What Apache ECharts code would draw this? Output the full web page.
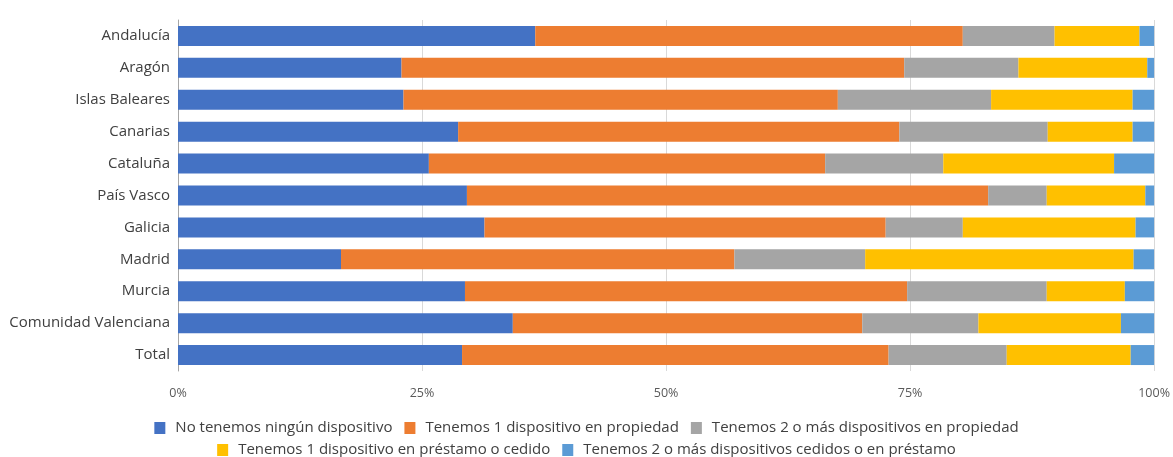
<!DOCTYPE html>
<html>
<head>
<meta charset="utf-8">
<script src="https://cdn.jsdelivr.net/npm/echarts@6/dist/echarts.min.js"></script>
<style>html,body{margin:0;padding:0;background:#fff}#c{width:1173px;height:457px}</style>
</head>
<body>
<div id="c"></div>
<script>
const categories = ["Andalucía","Aragón","Islas Baleares","Canarias","Cataluña","País Vasco","Galicia","Madrid","Murcia","Comunidad Valenciana","Total"];
const seriesNames = ["No tenemos ningún dispositivo","Tenemos 1 dispositivo en propiedad","Tenemos 2 o más dispositivos en propiedad","Tenemos 1 dispositivo en préstamo o cedido","Tenemos 2 o más dispositivos cedidos o en préstamo"];
const ningun     = [36.6, 22.9, 23.1, 28.7, 25.7, 29.6, 31.4, 16.7, 29.4, 34.3, 29.1];
const unoProp    = [43.8, 51.5, 44.5, 45.2, 40.6, 53.4, 41.1, 40.3, 45.3, 35.8, 43.7];
const dosProp    = [9.4, 11.7, 15.7, 15.2, 12.1, 6.0, 7.9, 13.4, 14.3, 11.9, 12.1];
const unoPrest   = [8.7, 13.2, 14.5, 8.7, 17.5, 10.1, 17.7, 27.5, 8.0, 14.6, 12.7];
const dosPrest   = [1.5, 0.7, 2.2, 2.2, 4.1, 0.9, 1.9, 2.1, 3.0, 3.4, 2.4];
const xTicks = [0, 25, 50, 75, 100];

const colors = ["#4472C4","#ED7D31","#A5A5A5","#FFC000","#5B9BD5"];
const values = [ningun, unoProp, dosProp, unoPrest, dosPrest];
const font = "'Open Sans', 'Noto Sans', sans-serif";

const legendCommon = {
  left: 'center', itemWidth: 11, itemHeight: 12, itemGap: 12, icon: 'rect', padding: 0,
  textStyle: {color: '#404040', fontSize: 15, fontFamily: font, padding: [0, 0, 0, 5], lineHeight: 18}
};

const chart = echarts.init(document.getElementById('c'));
chart.setOption({
  animation: false,
  textStyle: {fontFamily: font},
  grid: {left: 178, right: 17, top: 20, bottom: 86, containLabel: false},
  xAxis: {
    type: 'value', min: xTicks[0], max: xTicks[xTicks.length-1], interval: 25,
    axisLine: {show: false}, axisTick: {show: false},
    axisLabel: {formatter: '{value}%', color: '#595959', fontSize: 12.5, margin: 16, fontFamily: font},
    splitLine: {lineStyle: {color: '#d9d9d9', width: 1}}
  },
  yAxis: {
    type: 'category', data: categories, inverse: true,
    axisLine: {show: true, lineStyle: {color: '#a6a6a6', width: 1}},
    axisTick: {show: false},
    axisLabel: {color: '#404040', fontSize: 15, margin: 8, fontFamily: font}
  },
  legend: [
    Object.assign({data: seriesNames.slice(0,3), top: 419}, legendCommon),
    Object.assign({data: seriesNames.slice(3), top: 441}, legendCommon)
  ],
  series: seriesNames.map((n, i) => ({
    name: n, type: 'bar', stack: 'total', data: values[i], barWidth: 20,
    itemStyle: {color: colors[i]}
  }))
});
</script>
</body>
</html>
